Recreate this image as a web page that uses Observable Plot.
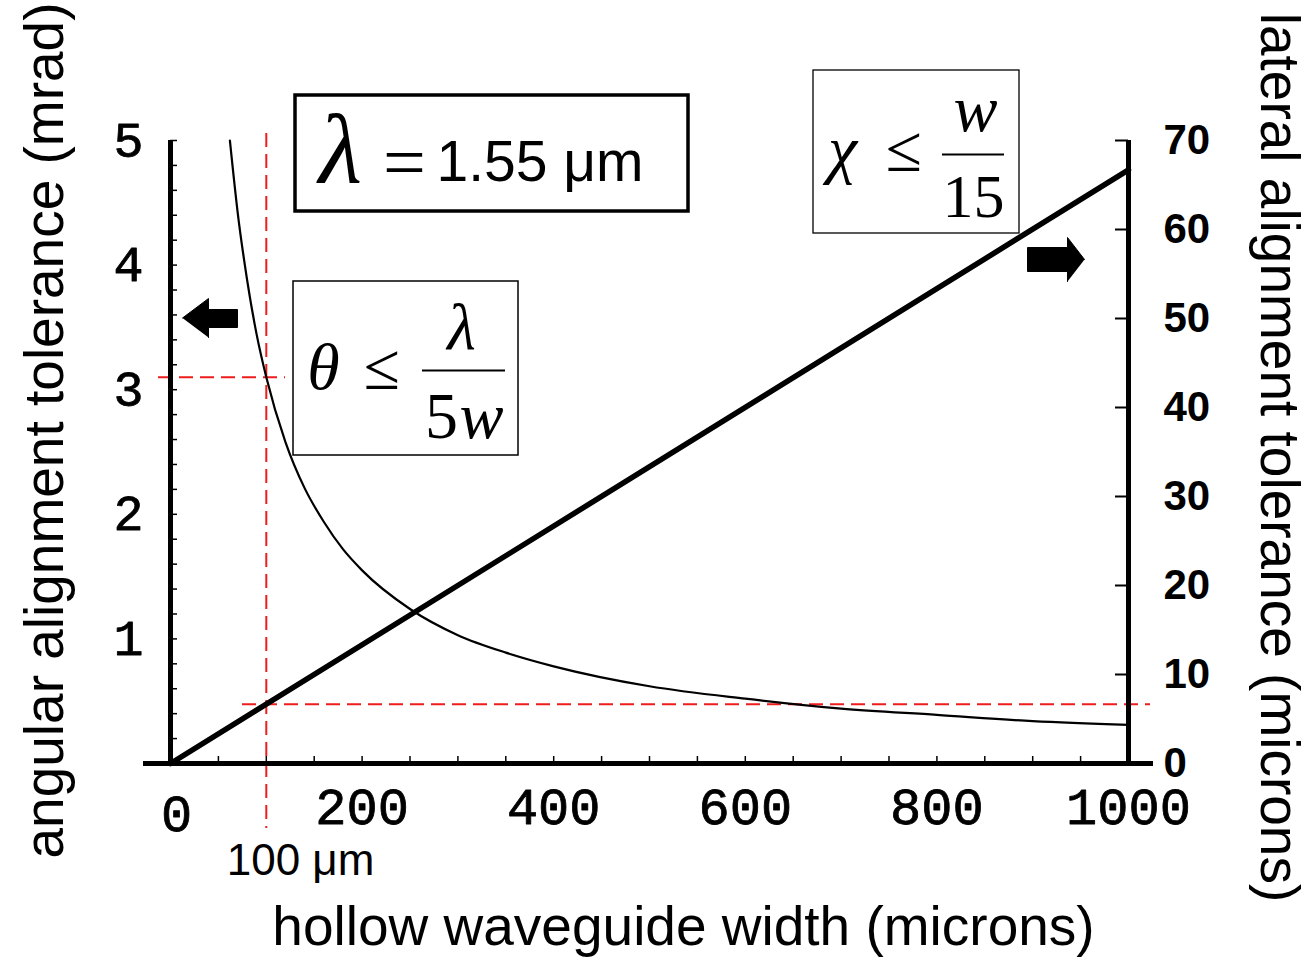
<!DOCTYPE html>
<html>
<head>
<meta charset="utf-8">
<script src="https://cdn.jsdelivr.net/npm/d3@7"></script>
<script src="https://cdn.jsdelivr.net/npm/@observablehq/plot@0.6"></script>
<style>
  html, body { margin: 0; padding: 0; background: #ffffff; }
  svg { overflow: visible; }
</style>
</head>
<body>
<div id="chart"></div>
<script>
// ---- data ----
const widths = [62, 70, 80, 90, 100, 120, 140, 160, 180, 200, 250, 300, 350, 400, 500, 600, 700, 800, 900, 1000];
const angularMrad = [5.0, 4.43, 3.88, 3.44, 3.1, 2.58, 2.21, 1.94, 1.72, 1.55, 1.24, 1.03, 0.89, 0.78, 0.62, 0.52, 0.44, 0.39, 0.34, 0.31];
const lateralWidths = [0, 1000];
const lateralMicrons = [0, 66.7];
const guideWidth = 100;
const guideAngular = 3.1;
const guideLateral = 6.67;
const xTickLabels = [200, 400, 600, 800, 1000];
const xMinorTicks = d3.range(0, 1001, 50);
const leftTickLabels = [1, 2, 3, 4, 5];
const leftMinorTicks = d3.range(0, 26).map(i => i * 0.2);
const rightTickLabels = [0, 10, 20, 30, 40, 50, 60, 70];
const rightMax = 70, leftMax = 5;
const toLeft = v => v * leftMax / rightMax;

const curve = widths.map((w, i) => ({w, a: angularMrad[i]}));
const lateral = lateralWidths.map((w, i) => ({w, c: lateralMicrons[i]}));

// pixel -> data helpers for annotations
const X = p => (p - 170) * 1000 / 958;
const Y = p => (763 - p) * 5 / 623;

const serif = "Liberation Serif, Times New Roman, serif";
const sans = "Liberation Sans, Arial, sans-serif";
const mono = "Liberation Mono, Courier New, monospace";

const poly = pts => pts.map(([a, b]) => ({x: X(a), y: Y(b)}));
const leftArrow = poly([[182,317.5],[208,298],[208,309],[237,309],[237,327],[208,327],[208,337]]);
const rightArrow = poly([[1084,259],[1067,237],[1067,247],[1027,247],[1027,271],[1067,271],[1067,281]]);

const boxes = [
  {x1: X(295), x2: X(688), y1: Y(95), y2: Y(211), sw: 3.5},
  {x1: X(293), x2: X(518), y1: Y(281), y2: Y(455), sw: 1.5},
  {x1: X(813), x2: X(1019), y1: Y(70), y2: Y(233), sw: 1.3}
];

const chart = Plot.plot({
  width: 1311,
  height: 962,
  marginLeft: 170,
  marginRight: 183,
  marginTop: 140,
  marginBottom: 199,
  x: {domain: [0, 1000]},
  y: {domain: [0, 5]},
  style: {background: "#ffffff", fontFamily: sans},
  marks: [
    // boxes
    Plot.rect(boxes, {x1: "x1", x2: "x2", y1: "y1", y2: "y2", fill: "white", stroke: "black", strokeWidth: d => d.sw}),
    // red guides
    Plot.ruleX([guideWidth], {y1: Y(133), y2: Y(828), stroke: "#ee1c1c", strokeWidth: 2, strokeDasharray: "14,7"}),
    Plot.ruleY([guideAngular], {x1: X(158), x2: X(285), stroke: "#ee1c1c", strokeWidth: 2, strokeDasharray: "14,7"}),
    Plot.ruleY([toLeft(guideLateral)], {x1: X(242), x2: X(1150), stroke: "#ee1c1c", strokeWidth: 2, strokeDasharray: "14,7"}),
    // axis lines
    Plot.ruleX([0], {y1: Y(765), y2: 5, strokeWidth: 5}),
    Plot.ruleX([1000], {y1: 0, y2: toLeft(rightMax), strokeWidth: 5}),
    Plot.ruleY([0], {x1: X(143), x2: X(1153), strokeWidth: 5}),
    // minor ticks
    Plot.ruleY(leftMinorTicks, {x1: 0, x2: X(177), strokeWidth: 1.5}),
    Plot.ruleY(rightTickLabels.map(toLeft), {x1: X(1115), x2: 1000, strokeWidth: 2}),
    Plot.ruleX(xMinorTicks, {y1: 0, y2: Y(756), strokeWidth: 1.5}),
    // data
    Plot.line(curve, {x: "w", y: "a", stroke: "black", strokeWidth: 2.2, curve: "monotone-x"}),
    Plot.line(lateral, {x: "w", y: d => toLeft(d.c), stroke: "black", strokeWidth: 5.5}),
    // arrows
    Plot.line(leftArrow, {x: "x", y: "y", fill: "black", stroke: "black", strokeWidth: 1}),
    Plot.line(rightArrow, {x: "x", y: "y", fill: "black", stroke: "black", strokeWidth: 1}),
    // axes
    Plot.axisX(xTickLabels, {anchor: "bottom", tickSize: 0, tickPadding: 24, tickFormat: d => String(d), fontSize: 52, fontFamily: mono, fill: "black", textStroke: "black", textStrokeWidth: 0.8, label: null}),
    Plot.text(["0"], {x: 0, y: 0, dx: 6, dy: 51, fontSize: 52, fontFamily: mono, fill: "black", stroke: "black", strokeWidth: 0.8}),
    Plot.axisY(leftTickLabels, {anchor: "left", tickSize: 0, tickPadding: 27, tickFormat: d => String(d), fontSize: 50, fontFamily: mono, fill: "black", textStroke: "black", textStrokeWidth: 0.8, label: null}),
    Plot.axisY(rightTickLabels.map(toLeft), {anchor: "right", tickSize: 0, tickPadding: 35, fontSize: 42, fontWeight: "bold", fontFamily: sans, fill: "black", tickFormat: d => String(Math.round(d * rightMax / leftMax)), label: null}),
    // titles
    Plot.text(["hollow waveguide width (microns)"], {x: X(683), y: Y(927), fontSize: 55, fontFamily: sans, fill: "black"}),
    Plot.text(["angular alignment tolerance (mrad)"], {x: X(45), y: Y(430), rotate: -90, fontSize: 55, fontFamily: sans, fill: "black"}),
    Plot.text(["lateral alignment tolerance (microns)"], {x: X(1278), y: Y(457), rotate: 90, fontSize: 55, fontFamily: sans, fill: "black"}),
    Plot.text(["100 μm"], {x: X(300), y: Y(860), fontSize: 44, fontFamily: sans, fill: "black"}),
    // box 1: lambda = 1.55 um
    Plot.text(["λ"], {x: X(340), y: Y(150), fontSize: 100, fontFamily: serif, fontStyle: "italic", fill: "black"}),
    Plot.text(["="], {x: X(404), y: Y(163), fontSize: 76, fontFamily: serif, fill: "black"}),
    Plot.text(["1.55 μm"], {x: X(436), y: Y(162), textAnchor: "start", fontSize: 57, fontFamily: sans, fill: "black"}),
    // box 2: theta <= lambda / 5w
    Plot.text(["θ"], {x: X(323), y: Y(367), fontSize: 66, fontFamily: serif, fontStyle: "italic", fill: "black"}),
    Plot.text(["≤"], {x: X(381), y: Y(367), fontSize: 66, fontFamily: serif, fill: "black"}),
    Plot.text(["λ"], {x: X(461), y: Y(327), fontSize: 66, fontFamily: serif, fontStyle: "italic", fill: "black"}),
    Plot.ruleY([Y(370)], {x1: X(422), x2: X(505), strokeWidth: 2}),
    Plot.text(["5"], {x: X(441), y: Y(416), fontSize: 66, fontFamily: serif, fill: "black"}),
    Plot.text(["w"], {x: X(481), y: Y(416), fontSize: 66, fontFamily: serif, fontStyle: "italic", fill: "black"}),
    // box 3: chi <= w / 15
    Plot.text(["χ"], {x: X(842), y: Y(149), fontSize: 66, fontFamily: serif, fontStyle: "italic", fill: "black"}),
    Plot.text(["≤"], {x: X(903), y: Y(149), fontSize: 66, fontFamily: serif, fill: "black"}),
    Plot.text(["w"], {x: X(975), y: Y(109), fontSize: 66, fontFamily: serif, fontStyle: "italic", fill: "black"}),
    Plot.ruleY([Y(154)], {x1: X(942), x2: X(1004), strokeWidth: 2}),
    Plot.text(["15"], {x: X(973), y: Y(197), fontSize: 62, fontFamily: serif, fill: "black"})
  ]
});
document.getElementById("chart").appendChild(chart);
</script>
</body>
</html>
